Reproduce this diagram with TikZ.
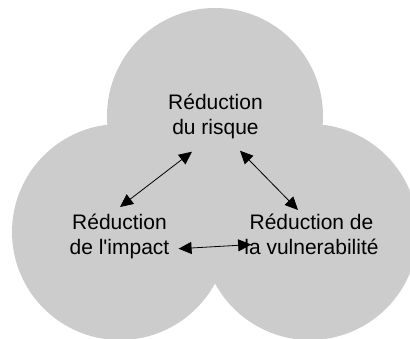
\documentclass[tikz,border=0pt]{standalone}
\usepackage{fontspec}
\newfontfamily\lblfont{Liberation Sans}
\usetikzlibrary{arrows.meta}
\definecolor{blobgray}{RGB}{204,204,204}
\begin{document}
\begin{tikzpicture}[x=1pt,y=-1pt,
  blob/.style={fill=blobgray,draw=none},
  lbl/.style={align=center,inner sep=0pt,anchor=north,font=\lblfont\fontsize{21}{25}\selectfont},
  link/.style={{Triangle[length=13pt,width=12pt]}-{Triangle[length=13pt,width=12pt]},line width=0.8pt,black}]
\useasboundingbox (0,0) rectangle (410,339);
\clip (0,0) rectangle (410,339);
\fill[blob] (215,116) circle[radius=108];
\fill[blob] (120,232) circle[radius=108];
\fill[blob] (310,232) circle[radius=108];
\node[lbl] (risk) at (215.5,93.5) {Réduction\\du risque};
\node[lbl] (impact) at (119.5,213.5) {Réduction\\de l'impact};
\node[lbl] (vuln) at (311.5,213.5) {Réduction de\\la vulnerabilité};
\coordinate (rl) at ([shift={(-23.5,13)}]risk.south);
\coordinate (rr) at ([shift={(24.5,12)}]risk.south);
\coordinate (il) at ([shift={(0.5,-6.5)}]impact.north);
\coordinate (vr) at ([shift={(-13.5,-3.5)}]vuln.north);
\coordinate (ih) at ([shift={(9,-10)}]impact.south east);
\coordinate (vh) at ([shift={(7,-10)}]vuln.south west);
\draw[link] (rl) -- (il);
\draw[link] (rr) -- (vr);
\draw[link] (ih) -- (vh);
\end{tikzpicture}
\end{document}
